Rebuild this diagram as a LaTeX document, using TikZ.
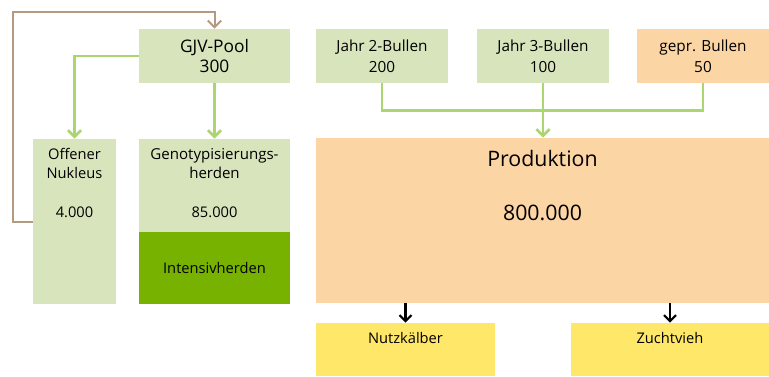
\documentclass[tikz,border=0pt]{standalone}
\usepackage{fontspec}
\setmainfont{Open Sans}
\usepackage{xcolor}
\usepackage{tikz}
\usetikzlibrary{positioning}
\usetikzlibrary{arrows.meta}
\definecolor{hellgruen}{HTML}{D8E5BC}
\definecolor{liniegruen}{HTML}{ABD56F}
\definecolor{dunkelgruen}{HTML}{77B200}
\definecolor{pfirsich}{HTML}{FCD5A5}
\definecolor{gelb}{HTML}{FFE769}
\definecolor{braun}{HTML}{B59A82}
\tikzset{box/.style={rectangle,inner sep=0pt,align=center,font=\fontsize{11}{14.25}\selectfont},
txt/.style={align=center,font=\fontsize{11}{14.25}\selectfont},
kopf/.style={font=\fontsize{11.5}{15.5}\selectfont},
gruenpfeil/.style={draw=liniegruen,line width=2pt,-{Straight Barb[length=5pt,width=10pt,line width=2pt]}},
schwarzpfeil/.style={draw=black,line width=1.6pt,-{Straight Barb[length=4.5pt,width=9pt,line width=1.6pt]}}}

\begin{document}
\begin{tikzpicture}[x=0.75pt,y=-0.75pt]
\useasboundingbox[fill=white] (0,0) rectangle (769,376);
\node[box,fill=hellgruen,minimum width=113.25pt,minimum height=40.5pt,font=\fontsize{13}{15}\selectfont] (pool) at (214.5,56) {GJV-Pool\\300};
\node[box,kopf,fill=hellgruen,minimum width=99pt,minimum height=40.5pt] (j2) at (382,56) {Jahr 2-Bullen\\200};
\node[box,kopf,fill=hellgruen,minimum width=99pt,minimum height=40.5pt] (j3) at (543,56) {Jahr 3-Bullen\\100};
\node[box,kopf,fill=pfirsich,minimum width=99pt,minimum height=40.5pt] (gepr) at (703,56) {gepr. Bullen\\50};
\node[box,fill=hellgruen,minimum width=62.25pt,minimum height=123.75pt] (nuk) at (74.5,221.5) {};
\node[box,fill=hellgruen,minimum width=113.25pt,minimum height=69.75pt] (geno) at (214.5,185.5) {};
\node[box,fill=dunkelgruen,minimum width=113.25pt,minimum height=54pt] (inten) at (214.5,268) {Intensivherden};
\node[box,fill=pfirsich,minimum width=339.75pt,minimum height=123.75pt] (prod) at (542.5,220.5) {};
\node[box,fill=gelb,minimum width=134.25pt,minimum height=39.75pt] (nutz) at (405.5,349.5) {};
\node[box,fill=gelb,minimum width=148.5pt,minimum height=39.75pt] (zucht) at (670,349.5) {};
\node[txt] (nuktext) at (74.5,163.5) {Offener\\Nukleus};
\node[txt] (nukzahl) at (74.5,212) {4.000};
\node[txt,font=\fontsize{11.3}{14.25}\selectfont] (genotext) at (214.5,163.5) {Genotypisierungs-\\herden};
\node[txt] (genozahl) at (214.5,212) {85.000};
\node[font=\fontsize{16}{19}\selectfont] (prodtext) at (542.5,158) {Produktion};
\node[font=\fontsize{16}{19}\selectfont] (prodzahl) at (542.5,213) {800.000};
\node[txt] (nutztext) at (405.5,338) {Nutzkälber};
\node[txt] (zuchttext) at (670,338) {Zuchtvieh};
\coordinate (rueck) at (13,12);
\draw[braun,line width=1.5pt,-{Straight Barb[length=5pt,width=10pt,line width=1.5pt]}] (nuk.west) -| (rueck) -| (pool.north);
\draw[gruenpfeil] (pool.west) -| (nuk.north);
\draw[gruenpfeil] (pool.south) -- (geno.north);
\draw[liniegruen,line width=2pt] (j2.south) -- ++(0,27) -| (gepr.south);
\draw[gruenpfeil] (j3.south) -- (j3.south |- prod.north);
\draw[schwarzpfeil] (prod.south -| nutz.north) -- (nutz.north);
\draw[schwarzpfeil] (prod.south -| zucht.north) -- (zucht.north);
\end{tikzpicture}
\end{document}
